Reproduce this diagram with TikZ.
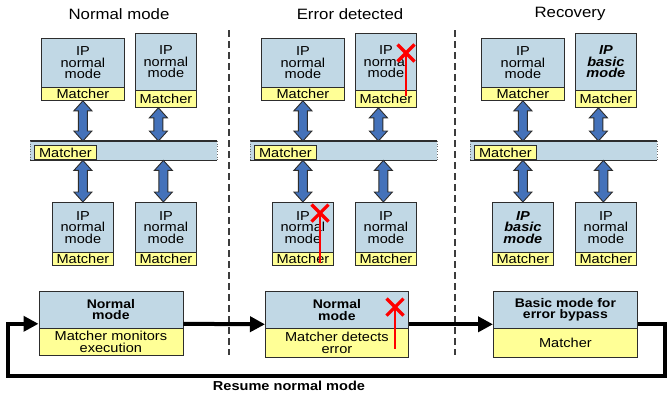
\documentclass[tikz,border=0pt]{standalone}
\usepackage{fontspec}
\setmainfont{Liberation Sans}[FakeStretch=1.12]
\usetikzlibrary{arrows.meta,calc}
\definecolor{boxblue}{RGB}{193,216,229}
\definecolor{boxyel}{RGB}{255,255,150}
\definecolor{arrblue}{RGB}{68,114,186}
\definecolor{edgec}{RGB}{45,45,45}
\definecolor{divc}{RGB}{60,60,60}
\tikzset{
  txt/.style={font=\fontsize{13}{11.5}\selectfont},
  ipup/.style={draw=edgec, line width=0.8pt, fill=boxblue, inner sep=0pt, align=center, txt},
  matchbox/.style={draw=edgec, line width=0.8pt, fill=boxyel, inner sep=0pt, txt},
  basic/.style={font=\fontsize{13}{11.5}\selectfont\bfseries\itshape},
  stup/.style={draw=edgec, line width=0.8pt, fill=boxblue, inner sep=0pt, align=center, font=\fontsize{12.5}{11.5}\selectfont\bfseries},
  stlow/.style={draw=edgec, line width=0.8pt, fill=boxyel, inner sep=0pt, align=center, font=\fontsize{13}{11.5}\selectfont},
  busfill/.style={fill=boxblue, inner sep=0pt, draw=none},
  busline/.style={draw=edgec, line width=1.1pt},
  busside/.style={draw=edgec!70, line width=0.6pt, dotted},
  blockarr/.style={draw=edgec, line width=0.9pt, fill=arrblue, line join=miter},
  redmark/.style={draw=red, line width=3.2pt},
  redline/.style={draw=red, line width=2pt},
  flow/.style={draw=black, line width=4pt, -{Triangle[length=15pt,width=15pt]}},
  divider/.style={draw=divc, line width=1.6pt, dash pattern=on 7pt off 4pt},
  ptitle/.style={font=\fontsize{15}{17}\selectfont, inner sep=0pt},
  loopl/.style={font=\fontsize{13}{15}\selectfont\bfseries, inner sep=0pt},
}
\newcommand\ipbox[8]{%
  \node[ipup, #7, minimum width={#4-#2}, minimum height={#5-#3}, anchor=north west] (#1) at (#2,#3) {#8};
  \node[matchbox, minimum width={#4-#2}, minimum height={#6-#5}, anchor=north west] (#1m) at (#2,#5) {Matcher};}
\newcommand\stbox[8]{%
  \node[stup, minimum width={#4-#2}, minimum height={#5-#3}, anchor=north west] (#1) at (#2,#3) {#7};
  \node[stlow, minimum width={#4-#2}, minimum height={#6-#5}, anchor=north west] (#1m) at (#2,#5) {#8};}
\newcommand\blockarrow[2]{%
  \draw[blockarr] ($#1+(-4.5,10)$) -- ($#1+(-9,10)$) -- #1 -- ($#1+(9,10)$) -- ($#1+(4.5,10)$)
    -- ($#2+(4.5,-10)$) -- ($#2+(9,-10)$) -- #2 -- ($#2+(-9,-10)$) -- ($#2+(-4.5,-10)$) -- cycle;}
\newcommand\redx[2]{%
  \draw[redline] #1 -- #2;
  \draw[redmark] ($#1+(-8.5,-8.5)$) -- ($#1+(8.5,8.5)$) ($#1+(-8.5,8.5)$) -- ($#1+(8.5,-8.5)$);}
\newcommand\panelbody[5]{% #1 prefix, #2 TR style, #3 TR text, #4 BL style, #5 BL text
  \ipbox{#1tl}{41}{38}{124}{87}{100}{}{IP\\normal\\mode}
  \ipbox{#1tr}{135}{33}{196}{90}{107}{#2}{#3}
  \ipbox{#1bl}{52}{202}{113}{252}{265}{#4}{#5}
  \ipbox{#1br}{135}{202}{196}{252}{265}{}{IP\\normal\\mode}
  \node[busfill, minimum width=187, minimum height=19, anchor=north west] (#1bus) at (30,141) {};
  \draw[busline] (#1bus.north west) -- (#1bus.north east);
  \draw[busline] (#1bus.south west) -- (#1bus.south east);
  \draw[busside] (#1bus.north west) -- (#1bus.south west);
  \draw[busside] (#1bus.north east) -- (#1bus.south east);
  \node[matchbox, minimum width=62, minimum height=14, anchor=south west] (#1busm) at (34,160) {Matcher};
  \coordinate (#1a1) at (#1tlm.south);
  \coordinate (#1a2) at ([xshift=-7.5pt]#1trm.south);
  \coordinate (#1a3) at (#1bl.north);
  \coordinate (#1a4) at ([xshift=-2.5pt]#1br.north);
  \blockarrow{(#1a1)}{(#1bus.north -| #1a1)}
  \blockarrow{(#1a2)}{(#1bus.north -| #1a2)}
  \blockarrow{(#1bus.south -| #1a3)}{(#1a3)}
  \blockarrow{(#1bus.south -| #1a4)}{(#1a4)}
}
\begin{document}
\begin{tikzpicture}[x=1pt,y=-1pt]
\useasboundingbox[fill=white] (0,0) rectangle (668,397);
% titles
\node[ptitle] (t1) at (119,14) {Normal mode};
\node[ptitle] (t2) at (350,14) {Error detected};
\node[ptitle] (t3) at (570,14) {Recovery};
% dividers
\coordinate (d1a) at (229,30); \coordinate (d1b) at (229,355);
\coordinate (d2a) at (455,30); \coordinate (d2b) at (455,355);
\draw[divider] (d1a) -- (d1b);
\draw[divider] (d2a) -- (d2b);
% panels
\begin{scope}
\panelbody{p}{}{IP\\normal\\mode}{}{IP\\normal\\mode}
\end{scope}
\begin{scope}[xshift=220pt]
\panelbody{q}{}{IP\\normal\\mode}{}{IP\\normal\\mode}
\coordinate (qx1) at (186,53); \coordinate (qx1b) at (186,96);
\coordinate (qx2) at (100,213); \coordinate (qx2b) at (100,263);
\redx{(qx1)}{(qx1b)}
\redx{(qx2)}{(qx2b)}
\end{scope}
\begin{scope}[xshift=440pt]
\panelbody{r}{basic}{IP\\basic\\mode}{basic}{IP\\basic\\mode}
\end{scope}
% state boxes
\stbox{s1}{38.5}{291}{182.5}{327.5}{355}{Normal\\mode}{Matcher monitors\\execution}
\stbox{s2}{265}{291}{408}{328}{357}{Normal\\mode}{Matcher detects\\error}
\stbox{s3}{493}{291}{637}{328}{357}{Basic mode for\\error bypass}{Matcher}
\coordinate (sx) at (395,307); \coordinate (sxb) at (395,349);
\redx{(sx)}{(sxb)}
% flow arrows
\draw[flow] ([yshift=4.5pt]s1.south east) -- ([yshift=4.5pt]s2.south west);
\draw[flow] ([yshift=4.5pt]s2.south east) -- ([yshift=4.5pt]s3.south west);
\coordinate (loopr) at (665,376);
\coordinate (loopl) at (8,376);
\draw[flow] ([yshift=4.5pt]s3.south east) -| (loopr) -- (loopl) |- ([yshift=4.5pt]s1.south west);
\node[loopl] (resume) at (289,386) {Resume normal mode};
\end{tikzpicture}
\end{document}
